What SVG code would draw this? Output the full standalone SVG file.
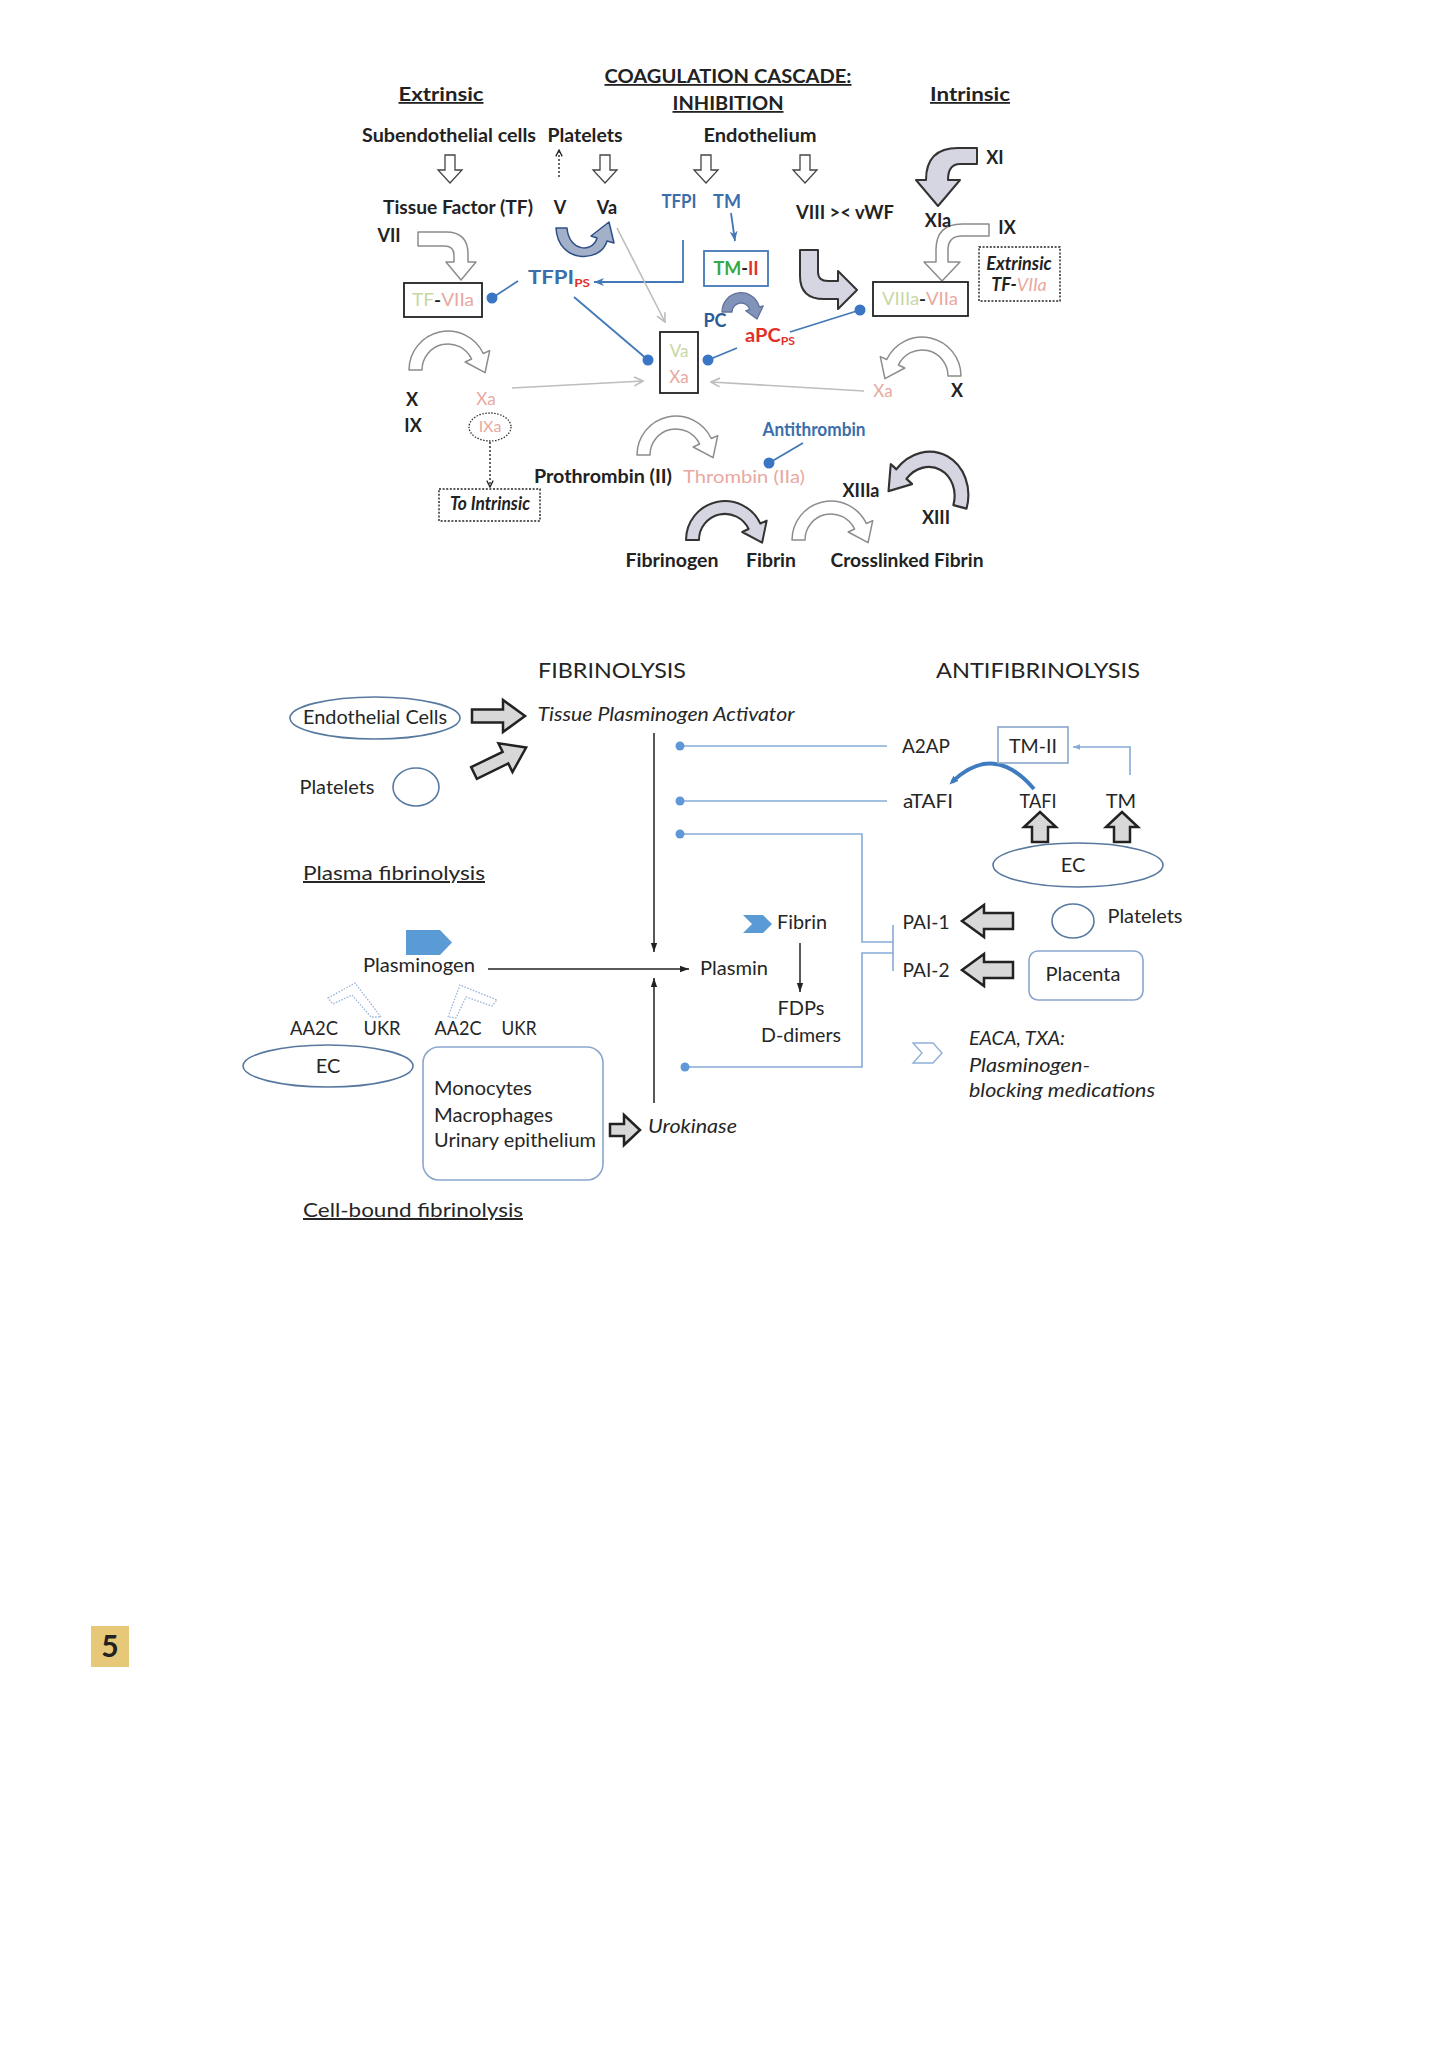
<svg xmlns="http://www.w3.org/2000/svg" width="1448" height="2050" viewBox="0 0 1448 2050">
<style>
text{font-family:Lato,"Liberation Sans",Arial,sans-serif;fill:#222}
.m{text-anchor:middle}
.b{font-weight:700;font-size:18px}
.s{font-size:17px}
.f{font-size:20px;fill:#262626}
.h{font-size:22px;fill:#242424}
.it{font-style:italic}
.ul{text-decoration:underline}
.bl{fill:#3b6eab}
.db{fill:#2d5b97}
.rd{fill:#e2312b}
.gn{fill:#38a846}
.lg{fill:#c7d7a4}
.pk{fill:#e9a8a0}
.blue{stroke:#4278b8;stroke-width:1.8;fill:none}
.lb{stroke:#86abd8;stroke-width:1.6;fill:none}
.gray{stroke:#bdbdbd;stroke-width:1.6;fill:none}
.blk{stroke:#222;stroke-width:1.5;fill:none}
.hol{fill:#fff;stroke:#8c8c8c;stroke-width:1.5;stroke-linejoin:round}
.hol2{fill:#fff;stroke:#444;stroke-width:1.3}
.fil{fill:#d6d6e2;stroke:#333;stroke-width:2;stroke-linejoin:round}
.fat{fill:#d8d8d8;stroke:#222;stroke-width:2.5}
.dot{fill:#3a76c4}
.ldot{fill:#5f97d8}
.ell{fill:#fff;stroke:#57799f;stroke-width:1.6}
.rb{fill:#fff;stroke:#8aa6cc;stroke-width:1.6}
.box{fill:#fff;stroke:#222;stroke-width:1.8}
.dash{fill:#fff;stroke:#222;stroke-width:1.4;stroke-dasharray:2 1.6}
.chev{fill:#fff;stroke:#9cb6d8;stroke-width:1.3;stroke-dasharray:1.6 1.4}
</style>
<defs>
<marker id="mk" viewBox="0 0 10 10" refX="10" refY="5" markerWidth="9" markerHeight="9" orient="auto" markerUnits="userSpaceOnUse"><path d="M0,1.5 L10,5 L0,8.5 Z" fill="#222"/></marker>
<marker id="mb" viewBox="0 0 10 10" refX="10" refY="5" markerWidth="10" markerHeight="10" orient="auto" markerUnits="userSpaceOnUse"><path d="M0,1 L10,5 L0,9 L3,5 Z" fill="#4278b8"/></marker>
<marker id="mg" viewBox="0 0 10 10" refX="9" refY="5" markerWidth="11" markerHeight="11" orient="auto" markerUnits="userSpaceOnUse"><path d="M1,1 L9,5 L1,9" fill="none" stroke="#bdbdbd" stroke-width="1.5"/></marker>
<marker id="md" viewBox="0 0 10 10" refX="9" refY="5" markerWidth="8" markerHeight="8" orient="auto" markerUnits="userSpaceOnUse"><path d="M1,1 L9,5 L1,9" fill="none" stroke="#222" stroke-width="1.6"/></marker>
<marker id="ml" viewBox="0 0 10 10" refX="10" refY="5" markerWidth="7" markerHeight="7" orient="auto" markerUnits="userSpaceOnUse"><path d="M0,1 L10,5 L0,9 Z" fill="#86abd8"/></marker>
<marker id="mc" viewBox="0 0 10 10" refX="6" refY="5" markerWidth="9" markerHeight="9" orient="auto" markerUnits="userSpaceOnUse"><path d="M0,1 L10,5 L0,9 Z" fill="#3f7bbf"/></marker>
<path id="cr" d="M-39,0 A39,39 0 0 1 35.3,-16.5 L41.7,-19.4 L37.1,2.7 L17.2,-8 L23.6,-11 A26,26 0 0 0 -26,0 Z"/>
</defs>
<rect width="1448" height="2050" fill="#fff"/>

<g id="connectors">
<path class="hol2" d="M445,155 H455 V170 H462 L450,183 L438,170 H445 Z"/>
<path class="hol2" d="M600,155 H610 V170 H617 L605,183 L593,170 H600 Z"/>
<path class="hol2" d="M701,155 H711 V170 H718 L706,183 L694,170 H701 Z"/>
<path class="hol2" d="M800,155 H810 V170 H817 L805,183 L793,170 H800 Z"/>
<line x1="559" y1="177" x2="559" y2="150" stroke="#333" stroke-width="1.5" stroke-dasharray="2 2" marker-end="url(#md)"/>
<path class="hol" d="M418,232 L446,232 Q468,232 468,254 L468,262 L476,262 L461,280 L446,262 L454,262 L454,255 Q454,246 444,246 L418,246 Z"/>
<path class="fil" d="M977,148 L958,148 Q926,148 926,180 L916,180 L938,206 L960,180 L948,180 Q948,164 960,164 L977,164 Z"/>
<path class="hol" d="M989,224 L962,224 Q936,224 936,250 L936,262 L924,262 L942,281 L960,262 L948,262 L948,250 Q948,236 962,236 L989,236 Z"/>
<path class="fil" d="M800,250 L818,250 L818,272 Q818,281 828,281 L838,281 L838,271 L857,290 L838,309 L838,299 L824,299 Q800,299 800,276 Z"/>
<path d="M556,228 L567,228 C569,252 593,253 597,238 L591,236 L609,222 L614,243 L607,241 C601,263 558,264 556,228 Z" fill="#a3b0c9" stroke="#2e4f86" stroke-width="1.5" stroke-linejoin="round"/>
<path d="M722,312 A19,19 0 0 1 759.4,307 L763.2,306 L757,319 L745.8,310.7 L749.7,309.7 A9,9 0 0 0 732,312 Z" fill="#8193b8" stroke="#5f7299" stroke-width="1.3" stroke-linejoin="round"/>
<use href="#cr" class="hol" transform="translate(448,370)"/>
<use href="#cr" class="hol" transform="translate(922,376) scale(-1,1)"/>
<use href="#cr" class="hol" transform="translate(676,455)"/>
<use href="#cr" class="fil" transform="translate(725,540)"/>
<use href="#cr" class="hol" transform="translate(831,540)"/>
<use href="#cr" class="fil" transform="translate(927,498) rotate(15) scale(-1.05,1.2)"/>
<path class="blue" d="M683,240 V282 H594" marker-end="url(#mb)"/>
<line class="blue" x1="731" y1="213" x2="735" y2="241" stroke-width="1.3" marker-end="url(#mb)"/>
<line class="blue" x1="492" y1="298" x2="518" y2="281"/>
<line class="blue" x1="574" y1="297" x2="648" y2="360"/>
<line class="blue" x1="737" y1="348" x2="708" y2="360"/>
<line class="blue" x1="790" y1="332" x2="860" y2="310"/>
<line class="blue" x1="803" y1="443" x2="769" y2="463"/>
<circle class="dot" cx="492" cy="298" r="5.5"/>
<circle class="dot" cx="648" cy="360" r="5.5"/>
<circle class="dot" cx="708" cy="360" r="5.5"/>
<circle class="dot" cx="860" cy="310" r="5.5"/>
<circle class="dot" cx="769" cy="463" r="5.5"/>
<line class="gray" x1="617" y1="228" x2="665" y2="322" marker-end="url(#mg)"/>
<line class="gray" x1="512" y1="388" x2="643" y2="381" marker-end="url(#mg)"/>
<line class="gray" x1="864" y1="391" x2="711" y2="382" marker-end="url(#mg)"/>
<line x1="490" y1="442" x2="490" y2="487" stroke="#333" stroke-width="1.5" stroke-dasharray="2 2" marker-end="url(#md)"/>

<path class="fat" d="M472,709.5 H503 V700 L525,716 L503,732 V722.5 H472 Z"/>
<path class="fat" d="M0,-6.5 H35 V-16 L58,0 L35,16 V6.5 H0 Z" transform="translate(474,773) rotate(-26)"/>
<path class="fat" stroke-width="2" d="M610,1124 H624 V1115 L640,1130 L624,1145 V1136 H610 Z"/>
<path class="fat" stroke-width="2.2" d="M962,921 L984,905 V913 H1013 V929 H984 V937 Z"/>
<path class="fat" stroke-width="2.2" d="M962,970 L984,954 V962 H1013 V978 H984 V986 Z"/>
<path class="fat" stroke-width="2" d="M1040,812 L1056,827 H1048 V842 H1032 V827 H1024 Z"/>
<path class="fat" stroke-width="2" d="M1122,812 L1138,827 H1130 V842 H1114 V827 H1106 Z"/>
<line class="blk" x1="654" y1="733" x2="654" y2="952" marker-end="url(#mk)"/>
<line class="blk" x1="488" y1="969" x2="689" y2="969" marker-end="url(#mk)"/>
<line class="blk" x1="654" y1="1103" x2="654" y2="978" marker-end="url(#mk)"/>
<line class="blk" x1="800" y1="943" x2="800" y2="992" marker-end="url(#mk)"/>
<line class="lb" x1="680" y1="746" x2="887" y2="746"/>
<line class="lb" x1="680" y1="801" x2="887" y2="801"/>
<path class="lb" d="M680,834 H862 V942 H893"/>
<path class="lb" d="M685,1067 H862 V953 H893"/>
<line class="lb" x1="893" y1="925" x2="893" y2="971"/>
<path class="lb" d="M1130,775 V747 H1073" marker-end="url(#ml)"/>
<path d="M1034,789 Q994,742 952,782" fill="none" stroke="#3f7bbf" stroke-width="4" marker-end="url(#mc)"/>
<circle class="ldot" cx="680" cy="746" r="4.5"/>
<circle class="ldot" cx="680" cy="801" r="4.5"/>
<circle class="ldot" cx="680" cy="834" r="4.5"/>
<circle class="ldot" cx="685" cy="1067" r="4.5"/>
<polygon class="chev" points="328,998 355,983 381,1017 371,1017 352,995 333,1004"/>
<polygon class="chev" points="448,1017 460,985 497,1000 492,1006 466,997 456,1018"/>
</g>

<g id="n-title"><text x="728" y="83" class="b m ul" textLength="247" lengthAdjust="spacingAndGlyphs">COAGULATION CASCADE:</text><text x="728" y="110" class="b m ul" textLength="111" lengthAdjust="spacingAndGlyphs">INHIBITION</text></g>
<g id="n-extrinsic"><text x="441" y="101" class="b m ul" textLength="85" lengthAdjust="spacingAndGlyphs">Extrinsic</text></g>
<g id="n-intrinsic"><text x="970" y="101" class="b m ul" textLength="80" lengthAdjust="spacingAndGlyphs">Intrinsic</text></g>
<g id="n-subendo"><text x="449" y="142" class="b m" textLength="174" lengthAdjust="spacingAndGlyphs">Subendothelial cells</text></g>
<g id="n-platelets"><text x="585" y="142" class="b m" textLength="75" lengthAdjust="spacingAndGlyphs">Platelets</text></g>
<g id="n-endothelium"><text x="760" y="142" class="b m" textLength="113" lengthAdjust="spacingAndGlyphs">Endothelium</text></g>
<g id="n-xi"><text x="995" y="164" class="b m">XI</text></g>
<g id="n-tf"><text x="458" y="214" class="b m" textLength="150" lengthAdjust="spacingAndGlyphs">Tissue Factor (TF)</text></g>
<g id="n-v"><text x="560" y="214" class="b m">V</text></g>
<g id="n-va"><text x="607" y="214" class="b m">Va</text></g>
<g id="n-tfpi"><text x="679" y="208" class="b m bl" font-size="17" textLength="35" lengthAdjust="spacingAndGlyphs">TFPI</text></g>
<g id="n-tm"><text x="727" y="208" class="b m bl" font-size="17">TM</text></g>
<g id="n-viii"><text x="845" y="219" class="b m" textLength="98" lengthAdjust="spacingAndGlyphs">VIII &gt;&lt; vWF</text></g>
<g id="n-xia"><text x="938" y="227" class="b m">XIa</text></g>
<g id="n-ix"><text x="1007" y="234" class="b m">IX</text></g>
<g id="n-vii"><text x="389" y="242" class="b m">VII</text></g>
<g id="n-tmii"><rect x="704" y="251" width="64" height="35" fill="#fff" stroke="#4278b8" stroke-width="1.8"/><text x="736" y="275" class="b m" font-size="17"><tspan class="gn">TM</tspan>-<tspan class="rd">II</tspan></text></g>
<g id="n-extbox"><rect class="dash" x="979" y="247" width="81" height="54"/><text x="1019" y="270" class="b m it" font-size="13">Extrinsic</text><text x="1019" y="291" class="b m it" font-size="13">TF-<tspan class="pk" font-weight="400">VIIa</tspan></text></g>
<g id="n-tfpips"><text x="528" y="284" class="b bl" font-size="17" textLength="62" lengthAdjust="spacingAndGlyphs">TFPI<tspan class="rd" font-size="11" dy="3">PS</tspan></text></g>
<g id="n-tfviia"><rect class="box" x="404" y="283" width="78" height="34"/><text x="443" y="306" class="s m" textLength="62" lengthAdjust="spacingAndGlyphs"><tspan class="lg">TF</tspan><tspan font-weight="700">-</tspan><tspan class="pk">VIIa</tspan></text></g>
<g id="n-viiia"><rect class="box" x="873" y="282" width="95" height="34"/><text x="920" y="305" class="s m" textLength="76" lengthAdjust="spacingAndGlyphs"><tspan class="lg">VIIIa</tspan><tspan font-weight="700">-</tspan><tspan class="pk">VIIa</tspan></text></g>
<g id="n-pc"><text x="715" y="327" class="b m db" font-size="17">PC</text></g>
<g id="n-apc"><text x="745" y="342" class="b rd" font-size="17" textLength="50" lengthAdjust="spacingAndGlyphs">aPC<tspan font-size="11" dy="3">PS</tspan></text></g>
<g id="n-vaxa"><rect class="box" x="660" y="332" width="38" height="61"/><text x="679" y="357" class="s m lg">Va</text><text x="679" y="383" class="s m pk">Xa</text></g>
<g id="n-x-left"><text x="412" y="406" class="b m">X</text></g>
<g id="n-ix-left"><text x="413" y="432" class="b m">IX</text></g>
<g id="n-xa-left"><text x="486" y="405" class="s m pk">Xa</text></g>
<g id="n-ixa"><ellipse cx="490" cy="427" rx="21" ry="14" fill="none" stroke="#333" stroke-width="1.3" stroke-dasharray="1.5 1.5"/><text x="490" y="432" class="m pk" font-size="16">IXa</text></g>
<g id="n-tointrinsic"><rect class="dash" x="439" y="489" width="101" height="32"/><text x="490" y="510" class="b m it" font-size="14" textLength="80" lengthAdjust="spacingAndGlyphs">To Intrinsic</text></g>
<g id="n-xa-right"><text x="883" y="397" class="s m pk">Xa</text></g>
<g id="n-x-right"><text x="957" y="397" class="b m">X</text></g>
<g id="n-antithrombin"><text x="814" y="436" class="b m bl" font-size="14" textLength="103" lengthAdjust="spacingAndGlyphs">Antithrombin</text></g>
<g id="n-prothrombin"><text x="603" y="483" class="b m" textLength="138" lengthAdjust="spacingAndGlyphs">Prothrombin (II)</text></g>
<g id="n-thrombin"><text x="744" y="483" class="m pk" font-size="18" textLength="122" lengthAdjust="spacingAndGlyphs">Thrombin (IIa)</text></g>
<g id="n-xiiia"><text x="861" y="497" class="b m">XIIIa</text></g>
<g id="n-xiii"><text x="936" y="524" class="b m">XIII</text></g>
<g id="n-fibrinogen"><text x="672" y="567" class="b m" textLength="93" lengthAdjust="spacingAndGlyphs">Fibrinogen</text></g>
<g id="n-fibrin"><text x="771" y="567" class="b m" textLength="50" lengthAdjust="spacingAndGlyphs">Fibrin</text></g>
<g id="n-crosslinked"><text x="907" y="567" class="b m" textLength="153" lengthAdjust="spacingAndGlyphs">Crosslinked Fibrin</text></g>

<g id="n-fibrinolysis"><text x="612" y="678" class="h m" textLength="148" lengthAdjust="spacingAndGlyphs">FIBRINOLYSIS</text></g>
<g id="n-antifibrinolysis"><text x="1038" y="678" class="h m" textLength="204" lengthAdjust="spacingAndGlyphs">ANTIFIBRINOLYSIS</text></g>
<g id="n-endocells"><ellipse class="ell" cx="375" cy="718" rx="85" ry="21"/><text x="375" y="724" class="f m" textLength="144" lengthAdjust="spacingAndGlyphs">Endothelial Cells</text></g>
<g id="n-tpa"><text x="666" y="721" class="f m it" textLength="257" lengthAdjust="spacingAndGlyphs">Tissue Plasminogen Activator</text></g>
<g id="n-platelets-left"><text x="337" y="794" class="f m" textLength="75" lengthAdjust="spacingAndGlyphs">Platelets</text><ellipse class="ell" cx="416" cy="787" rx="23" ry="19"/></g>
<g id="n-plasmafib"><text x="394" y="880" class="f m ul" textLength="182" lengthAdjust="spacingAndGlyphs">Plasma fibrinolysis</text></g>
<g id="n-a2ap"><text x="926" y="753" class="f m" textLength="48" lengthAdjust="spacingAndGlyphs">A2AP</text></g>
<g id="n-tmii-b"><rect class="rb" x="998" y="727" width="70" height="36"/><text x="1033" y="753" class="f m" textLength="48" lengthAdjust="spacingAndGlyphs">TM-II</text></g>
<g id="n-atafi"><text x="928" y="808" class="f m" textLength="50" lengthAdjust="spacingAndGlyphs">aTAFI</text></g>
<g id="n-tafi"><text x="1038" y="808" class="f m" textLength="37" lengthAdjust="spacingAndGlyphs">TAFI</text></g>
<g id="n-tm-b"><text x="1121" y="808" class="f m">TM</text></g>
<g id="n-ec-right"><ellipse class="ell" cx="1078" cy="865" rx="85" ry="22"/><text x="1073" y="872" class="f m" font-size="19">EC</text></g>
<g id="n-platelets-right"><ellipse class="ell" cx="1073" cy="921" rx="21" ry="17"/><text x="1145" y="923" class="f m" textLength="75" lengthAdjust="spacingAndGlyphs">Platelets</text></g>
<g id="n-pai1"><text x="926" y="929" class="f m" textLength="47" lengthAdjust="spacingAndGlyphs">PAI-1</text></g>
<g id="n-pai2"><text x="926" y="977" class="f m" textLength="47" lengthAdjust="spacingAndGlyphs">PAI-2</text></g>
<g id="n-placenta"><rect class="rb" x="1029" y="951" width="114" height="49" rx="9"/><text x="1083" y="981" class="f m" textLength="75" lengthAdjust="spacingAndGlyphs">Placenta</text></g>
<g id="n-fibrin-b"><path d="M743,915 H763 L772,924 L763,933 H743 L752,924 Z" fill="#5b9bd5"/><text x="802" y="929" class="f m" textLength="50" lengthAdjust="spacingAndGlyphs">Fibrin</text></g>
<g id="n-plasmin"><text x="734" y="975" class="f m" textLength="68" lengthAdjust="spacingAndGlyphs">Plasmin</text></g>
<g id="n-fdps"><text x="801" y="1015" class="f m">FDPs</text><text x="801" y="1042" class="f m" textLength="80" lengthAdjust="spacingAndGlyphs">D-dimers</text></g>
<g id="n-plasminogen"><path d="M406,930 H440 L452,942.5 L440,955 H406 Z" fill="#5b9bd5"/><text x="419" y="972" class="f m" textLength="112" lengthAdjust="spacingAndGlyphs">Plasminogen</text></g>
<g id="n-receptors"><text x="314" y="1035" class="f m" textLength="48" lengthAdjust="spacingAndGlyphs">AA2C</text><text x="382" y="1035" class="f m" textLength="37" lengthAdjust="spacingAndGlyphs">UKR</text><text x="458" y="1035" class="f m" textLength="47" lengthAdjust="spacingAndGlyphs">AA2C</text><text x="519" y="1035" class="f m" textLength="35" lengthAdjust="spacingAndGlyphs">UKR</text></g>
<g id="n-ec-left"><ellipse class="ell" cx="328" cy="1066" rx="85" ry="21"/><text x="328" y="1073" class="f m" font-size="19">EC</text></g>
<g id="n-cells"><rect class="rb" x="423" y="1047" width="180" height="133" rx="16"/><text x="434" y="1095" class="f" textLength="98" lengthAdjust="spacingAndGlyphs">Monocytes</text><text x="434" y="1122" class="f" textLength="119" lengthAdjust="spacingAndGlyphs">Macrophages</text><text x="434" y="1147" class="f" textLength="162" lengthAdjust="spacingAndGlyphs">Urinary epithelium</text></g>
<g id="n-urokinase"><text x="648" y="1133" class="f it" textLength="89" lengthAdjust="spacingAndGlyphs">Urokinase</text></g>
<g id="n-eaca"><polygon points="913,1043 933,1043 942,1053 933,1063 913,1063 922,1053" fill="#fff" stroke="#8fb0d8" stroke-width="1.4"/><text x="969" y="1045" class="f it" textLength="96" lengthAdjust="spacingAndGlyphs">EACA, TXA:</text><text x="969" y="1072" class="f it" textLength="121" lengthAdjust="spacingAndGlyphs">Plasminogen-</text><text x="969" y="1097" class="f it" textLength="186" lengthAdjust="spacingAndGlyphs">blocking medications</text></g>
<g id="n-cellbound"><text x="413" y="1217" class="f m ul" textLength="220" lengthAdjust="spacingAndGlyphs">Cell-bound fibrinolysis</text></g>
<g id="n-badge"><rect x="91" y="1626" width="38" height="41" fill="#e7c878"/><text x="110" y="1657" class="m" font-size="30" font-weight="700">5</text></g>
</svg>
